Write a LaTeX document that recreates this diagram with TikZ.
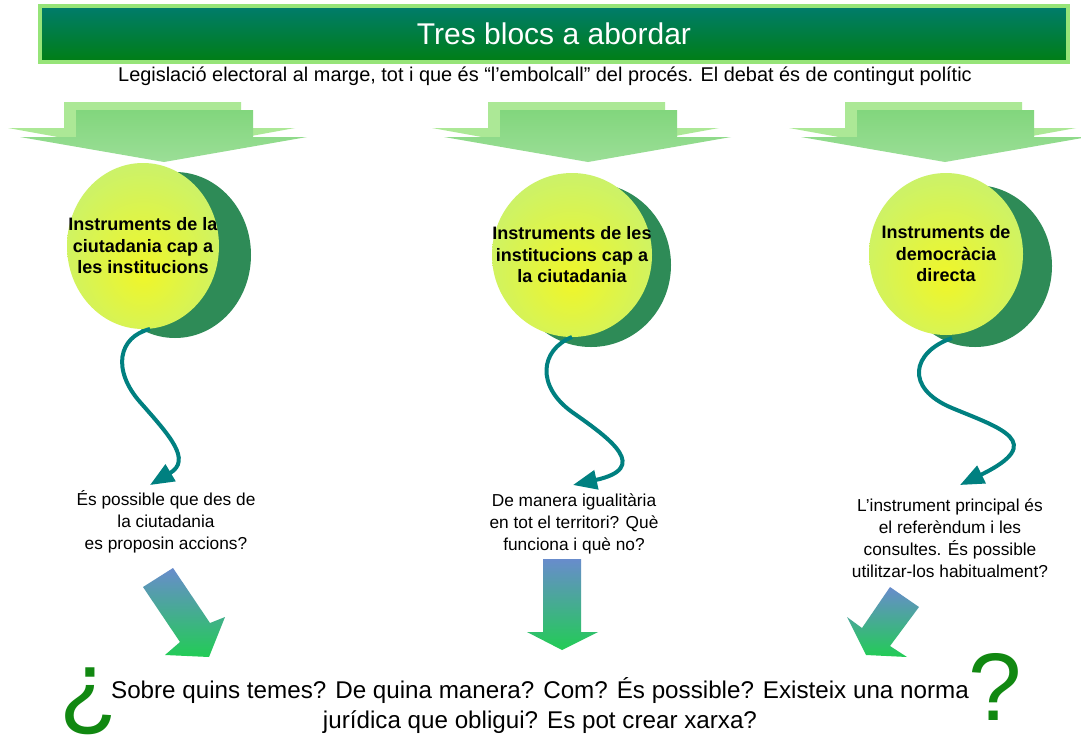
\documentclass[tikz,border=0pt]{standalone}
\usepackage{fontspec}
\setmainfont{Liberation Sans}
\usetikzlibrary{calc,arrows.meta}

\definecolor{bannerTop}{RGB}{0,124,108}
\definecolor{bannerBottom}{RGB}{0,126,20}
\definecolor{bannerEdge}{RGB}{150,228,120}
\definecolor{arrowBack}{RGB}{172,232,150}
\definecolor{arrowLight}{RGB}{130,214,125}
\definecolor{arrowDark}{RGB}{50,140,80}
\definecolor{bubbleIn}{RGB}{240,246,40}
\definecolor{bubbleOut}{RGB}{184,240,140}
\definecolor{bubbleShadow}{RGB}{46,139,87}
\definecolor{wave}{RGB}{0,128,128}
\definecolor{pointerTop}{RGB}{104,140,204}
\definecolor{pointerBottom}{RGB}{34,204,85}
\definecolor{qmark}{RGB}{17,136,17}

\pgfdeclareradialshading{bubbleglow}{\pgfpoint{0bp}{-8bp}}{%
  color(0bp)=(bubbleIn); color(18bp)=(bubbleIn!60!bubbleOut);
  color(44bp)=(bubbleOut); color(60bp)=(bubbleOut)}

\tikzset{
  banner/.style={draw=bannerEdge, line width=4pt, top color=bannerTop,
    bottom color=bannerBottom, minimum width=1028pt, minimum height=56pt,
    text=white, font=\fontsize{30}{30}\selectfont},
  bubble/.style={inner sep=0pt, align=center,
    font=\fontsize{18}{21.5}\selectfont\bfseries},
  question/.style={align=center, inner sep=0pt, font=\fontsize{17.3}{22}\selectfont},
  wave/.style={draw=wave, line width=4pt, -{Triangle[length=24pt,width=19pt]}},
  pointer/.style={top color=pointerTop, bottom color=pointerBottom},
  qmark/.style={text=qmark, inner sep=0pt, font=\fontsize{96}{96}\selectfont},
}

\newcommand*{\BannerArrows}[1]{% #1 = list of tip x
  \foreach \cx in {#1} {
    \fill[arrowBack] (\cx-100,102) -- (\cx+77,102) -- (\cx+77,128) -- (\cx+131,128)
      -- (\cx-12,154) -- (\cx-156,128) -- (\cx-100,128) -- cycle;
    \shade[top color=arrowLight, middle color=arrowDark, bottom color=arrowLight!80!white]
      (\cx-88,110) -- (\cx+89,110) -- (\cx+89,137) -- (\cx+143,137)
      -- (\cx,162) -- (\cx-144,137) -- (\cx-88,137) -- cycle;
  }%
}
\newcommand*{\Bubbles}[1]{% #1 = list of name/x/y/rx/ry/dx/dy/text
  \foreach \n/\x/\y/\rx/\ry/\dx/\dy/\txt in {#1} {
    \fill[bubbleShadow] (\x+\dx,\y+\dy) ellipse [x radius=\rx, y radius=\ry];
    \shade[shading=bubbleglow] (\x,\y) ellipse [x radius=\rx, y radius=\ry];
    \node[bubble] (\n) at (\x,\y) {\txt};
    \coordinate (\n-foot) at (\x,\y+\ry);
  }%
}

\begin{document}
\begin{tikzpicture}[x=1pt, y=-1pt]
  \clip (0,0) rectangle (1081,742);
  \fill[white] (0,0) rectangle (1081,742);

  \node[banner] (title) at (554,34) {Tres blocs a abordar};
  \node[font=\fontsize{19.9}{20}\selectfont] (sub) at (545,76)
    {Legislació electoral al marge, tot i que és “l’embolcall” del procés. El debat és de contingut polític};

  \BannerArrows{164, 588, 945}
  \Bubbles{b1/143/246/76/83/32/9/{Instruments de la\\ciutadania cap a\\les institucions},
           b2/572/255/80/82/19/10/{Instruments de les\\institucions cap a\\la ciutadania},
           b3/946/254/77/81/29/12/{Instruments de\\democràcia\\directa}}

  \node[question] (q1) at (166,522) {És possible que des de\\la ciutadania\\es proposin accions?};
  \node[question] (q2) at (574,524) {De manera igualitària\\en tot el territori? Què\\funciona i què no?};
  \node[question] (q3) at (950,538) {L’instrument principal és\\el referèndum i les\\consultes. És possible\\utilitzar-los habitualment?};

  \coordinate (t1) at (150,485);
  \coordinate (t2) at (573,485);
  \coordinate (t3) at (960,485);
  \draw[wave] ($(b1-foot)+(7,0)$) .. controls (118,337) and (112,370) .. (140,402)
    .. controls (170,436) and (192,460) .. (t1);
  \draw[wave] (b2-foot) .. controls (540,350) and (536,386) .. (572,412)
    .. controls (612,440) and (650,468) .. (t2);
  \draw[wave] ($(b3-foot)+(6,3)$) .. controls (912,352) and (904,388) .. (952,408)
    .. controls (1000,428) and (1048,442) .. (t3);

  % gradient pointers
  \shade[pointer] (143,587) -- (173,568) -- (210,623) -- (225,617) -- (209,657)
    -- (165,655) -- (180,642) -- cycle;
  \shade[pointer] (543,559) -- (581,559) -- (581,632) -- (598,632) -- (562,650)
    -- (527,632) -- (543,632) -- cycle;
  \shade[pointer] (890,587) -- (919,607) -- (890,646) -- (907,657) -- (866,655)
    -- (847,617) -- (862,628) -- cycle;

  \node[qmark] (open) at (89,701) {¿};
  \node[qmark] (close) at (995,687) {?};
  \node[align=center, font=\fontsize{24.2}{30}\selectfont] (ask) at (540,706)
    {Sobre quins temes? De quina manera? Com? És possible? Existeix una norma\\jurídica que obligui? Es pot crear xarxa?};
\end{tikzpicture}
\end{document}
